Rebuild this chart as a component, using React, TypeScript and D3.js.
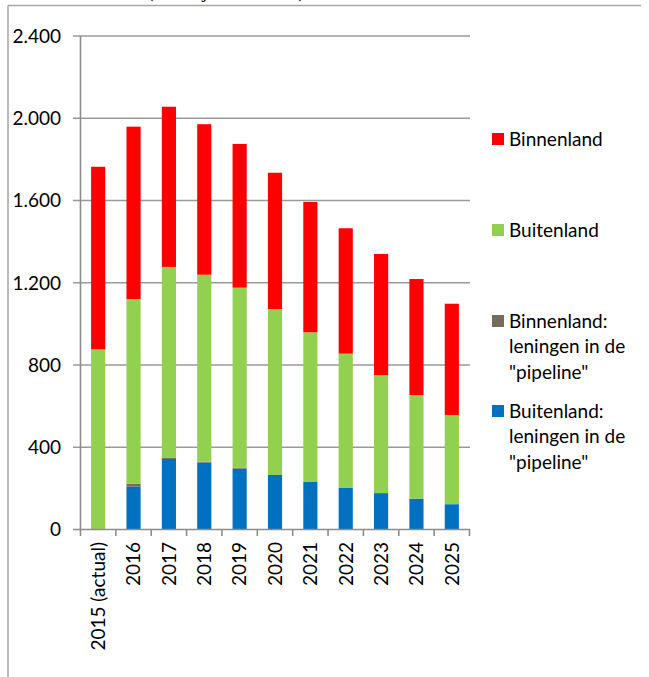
import React from "react";
import * as d3 from "d3";

// jaren / categorieën
const categories = [
  "2015 (actual)",
  "2016",
  "2017",
  "2018",
  "2019",
  "2020",
  "2021",
  "2022",
  "2023",
  "2024",
  "2025",
];

// series (gestapeld van onder naar boven)
const buitenlandPipeline = [0, 208, 343, 325, 296, 265, 231, 202, 177, 150, 123];
const binnenlandPipeline = [0, 15, 7, 5, 5, 0, 0, 0, 0, 0, 0];
const buitenland = [876, 898, 927, 909, 875, 807, 728, 653, 574, 504, 434];
const binnenland = [888, 838, 779, 732, 699, 663, 634, 610, 589, 564, 541];

const yTicks = [0, 400, 800, 1200, 1600, 2000, 2400];

const seriesKeys = ["bup", "bip", "bu", "bi"];
const colors: Record<string, string> = {
  bup: "#0070C0",
  bip: "#776B5D",
  bu: "#92D050",
  bi: "#FF0000",
};

// legenda, van boven naar beneden
const legendItems = [
  { key: "bi", lines: ["Binnenland"] },
  { key: "bu", lines: ["Buitenland"] },
  { key: "bip", lines: ["Binnenland:", "leningen in de", '"pipeline"'] },
  { key: "bup", lines: ["Buitenland:", "leningen in de", '"pipeline"'] },
];

const FONT = "Lato, 'Open Sans', sans-serif";
const FS = 19;

export default function App() {
  const width = 649;
  const height = 677;

  const rows = categories.map((c, i) => ({
    cat: c,
    bup: buitenlandPipeline[i],
    bip: binnenlandPipeline[i],
    bu: buitenland[i],
    bi: binnenland[i],
  }));

  const x = d3
    .scaleBand()
    .domain(categories)
    .range([80.5, 469.5])
    .paddingInner(0.6)
    .paddingOuter(0.3);

  const y = d3.scaleLinear().domain([0, 2400]).range([529.5, 36]);

  const stacked = d3.stack<any>().keys(seriesKeys)(rows);

  const step = x.step();
  const boundaries = d3.range(categories.length + 1).map((i) => 80.5 + i * step);

  const gridColor = "#9a9a9a";
  const axisColor = "#8c8c8c";

  return (
    <svg
      width={width}
      height={height}
      style={{ position: "absolute", left: 0, top: 0, background: "#fff" }}
    >
      {/* afgesneden titel */}
      <text
        x={147}
        y={-3}
        fontFamily="'Liberation Serif', serif"
        fontSize={20}
        textLength={158}
        lengthAdjust="spacing"
        fill="#000"
      >
        (in miljoenen euro)
      </text>

      {/* kader */}
      <line x1={8} x2={8} y1={5.5} y2={677} stroke="#a6a6a6" strokeWidth={1.5} />
      <line x1={8} x2={641} y1={5.5} y2={5.5} stroke="#a6a6a6" strokeWidth={1.5} />

      {/* rasterlijnen */}
      {yTicks
        .filter((t) => t > 0)
        .map((t) => (
          <line
            key={t}
            x1={73}
            x2={470}
            y1={y(t)}
            y2={y(t)}
            stroke={gridColor}
            strokeWidth={1.6}
          />
        ))}

      {/* y-as labels */}
      {yTicks.map((t) => (
        <text
          key={"l" + t}
          x={61}
          y={y(t)}
          dy="0.36em"
          textAnchor="end"
          fontFamily={FONT}
          fontSize={FS}
          fill="#000"
        >
          {d3.format(",")(t).replace(/,/g, ".")}
        </text>
      ))}

      {/* staven */}
      {stacked.map((s) => (
        <g key={s.key} fill={colors[s.key]}>
          {s.map((d, i) =>
            d[1] - d[0] > 0 ? (
              <rect
                key={i}
                x={x(categories[i])}
                y={y(d[1])}
                width={x.bandwidth()}
                height={y(d[0]) - y(d[1])}
              />
            ) : null
          )}
        </g>
      ))}

      {/* assen */}
      <line x1={80.5} x2={80.5} y1={36} y2={529.5} stroke={axisColor} strokeWidth={1.6} />
      <line x1={73} x2={470} y1={529.5} y2={529.5} stroke={axisColor} strokeWidth={1.6} />
      {boundaries.map((b, i) => (
        <line
          key={"t" + i}
          x1={b}
          x2={b}
          y1={529.5}
          y2={536}
          stroke={axisColor}
          strokeWidth={1.6}
        />
      ))}

      {/* x-as labels */}
      {categories.map((c) => {
        const cx = (x(c) as number) + x.bandwidth() / 2;
        return (
          <text
            key={"x" + c}
            transform={`translate(${cx},542) rotate(-90)`}
            dy="0.36em"
            textAnchor="end"
            fontFamily={FONT}
            fontSize={FS}
            fill="#000"
          >
            {c}
          </text>
        );
      })}

      {/* legenda */}
      {legendItems.map((item, i) => {
        const cy = [139, 230, 321, 411][i];
        return (
          <g key={item.key}>
            <rect x={492} y={cy - 6} width={12} height={12} fill={colors[item.key]} />
            {item.lines.map((ln, j) => (
              <text
                key={j}
                x={509}
                y={cy + j * 25.5}
                dy="0.36em"
                fontFamily={FONT}
                fontSize={FS}
                fill="#000"
              >
                {ln}
              </text>
            ))}
          </g>
        );
      })}
    </svg>
  );
}
